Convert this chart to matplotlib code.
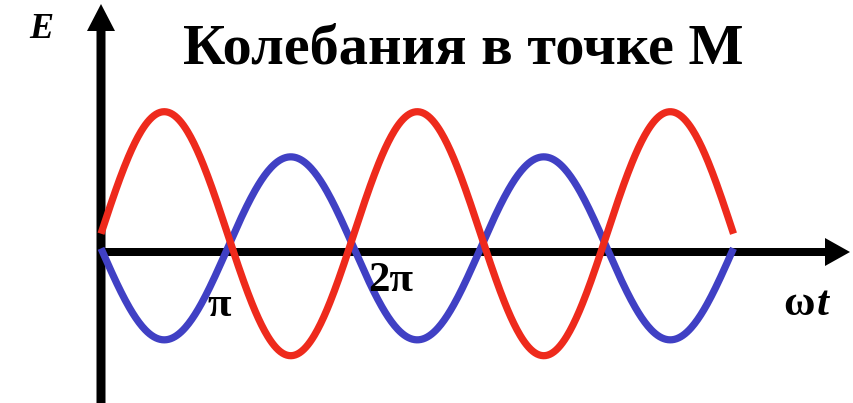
import numpy as np
import matplotlib
matplotlib.use("Agg")
import matplotlib.pyplot as plt

# ---- data ----
phase_end = 5 * np.pi            # curves run over ωt from 0 to 5π
red_amp, red_offset = 1.0, 0.15
blue_amp, blue_offset = 0.75, 0.03
title = "Колебания в точке М"
tick_labels = ["π", "2π"]
tick_label_x = [2.93, 7.20]
tick_label_y = [-0.443, -0.238]
y_label = "E"

# ---- layout (px -> data) ----
W, H = 854, 403
k = 126.5 / np.pi      # px per radian
u = 122.0              # px per E unit
x0_px, y0_px = 101, 252

def px_x(p):
    return (p - x0_px) / k

def px_y(p):
    return (y0_px - p) / u

fig = plt.figure(figsize=(W / 100, H / 100), dpi=100)
ax = fig.add_axes([0, 0, 1, 1])
ax.set_xlim(px_x(0), px_x(W))
ax.set_ylim(px_y(H), px_y(0))
ax.axis("off")

wt = np.linspace(0, phase_end, 600)
red = red_offset + red_amp * np.sin(wt)
blue = blue_offset - blue_amp * np.sin(wt)

RED = "#ee2a1c"
BLUE = "#4040c4"

# axes arrows
ax.arrow(px_x(99), 0, px_x(850) - px_x(99), 0, width=8 / u, head_width=28 / u,
         head_length=25 / k, length_includes_head=True, color="black", lw=0, zorder=1)
ax.arrow(0, px_y(H + 2), 0, px_y(4) - px_y(H + 2), width=9 / k, head_width=28 / k,
         head_length=27 / u, length_includes_head=True, color="black", lw=0, zorder=1)

ax.plot(wt, blue, color=BLUE, lw=5.2, solid_capstyle="butt", zorder=2)
ax.plot(wt, red, color=RED, lw=5.2, solid_capstyle="butt", zorder=3)

serif = "Liberation Serif"
for lab, xx, yy in zip(tick_labels, tick_label_x, tick_label_y):
    ax.text(xx, yy, lab, fontsize=31, fontweight="bold", family=serif,
            ha="center", va="center", zorder=4)

ax.text(px_x(815), px_y(305), "ω", fontsize=31, fontweight="bold", family=serif,
        ha="right", va="center")
ax.text(px_x(817), px_y(305), "t", fontsize=31, fontweight="bold", style="italic",
        family=serif, ha="left", va="center")

ax.text(px_x(41), px_y(29), y_label, fontsize=26, fontweight="bold", style="italic",
        family=serif, ha="center", va="center")

fig.text(463 / W, 1 - 64 / H, title, fontsize=42, fontweight="bold", family=serif,
         ha="center", va="baseline")

fig.savefig("out.png", dpi=100, facecolor="white")
